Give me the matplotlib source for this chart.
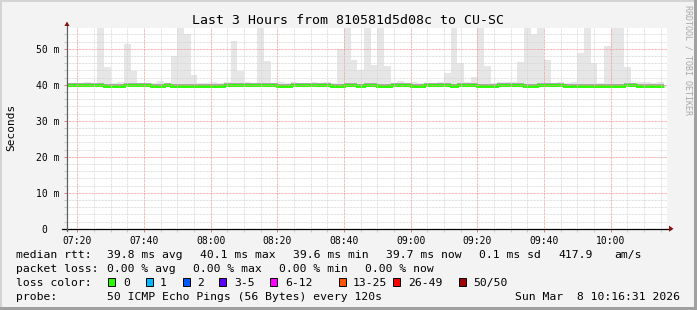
import matplotlib
matplotlib.use('Agg')
import matplotlib.pyplot as plt
import matplotlib.dates as mdates
from matplotlib.patches import Rectangle, Polygon
from matplotlib.ticker import MultipleLocator, FixedLocator
import pandas as pd

W, H = 697, 310
MONO = 'DejaVu Sans Mono'

title = 'Last 3 Hours from 810581d5d08c to CU-SC'
step_start = '2026-03-08 07:16'
view_start = '2026-03-08 07:16:54'
view_end = '2026-03-08 10:16:54'

# top of the smoke for each 2 minute step (ms); 58 means cut off by the top edge
smoke_max = [40.6, 40.6, 40.5, 40.8, 40.6, 58.0, 45.0, 40.6, 40.8, 51.3,
             43.9, 40.5, 40.6, 40.5, 40.9, 40.5, 48.0, 58.0, 54.1, 42.7,
             40.6, 40.6, 40.7, 40.6, 40.7, 52.1, 43.9, 40.7, 40.6, 58.0,
             46.6, 40.5, 40.8, 40.6, 40.7, 40.6, 40.6, 40.8, 40.6, 40.7,
             40.6, 49.8, 58.0, 47.0, 44.0, 58.0, 45.6, 58.0, 45.3, 40.6,
             40.9, 40.6, 40.8, 40.6, 40.5, 40.6, 40.7, 43.3, 58.0, 45.9,
             40.7, 42.1, 58.0, 45.2, 40.6, 40.7, 40.8, 40.7, 46.4, 58.0,
             54.2, 58.0, 46.9, 40.6, 40.7, 40.6, 40.8, 48.9, 58.0, 46.1,
             40.6, 50.7, 58.0, 58.0, 44.8, 40.6, 40.7, 40.8, 40.6, 40.7]

# median rtt per step (ms)
median_rtt = [40.0, 40.0, 40.0, 39.9, 40.0, 40.0, 39.6, 39.6, 39.6, 39.9,
              39.9, 39.9, 39.9, 39.7, 39.7, 40.0, 39.7, 39.7, 39.7, 39.7,
              39.7, 39.7, 39.7, 39.7, 39.8, 39.8, 39.8, 39.8, 39.9, 40.0,
              40.0, 40.0, 39.7, 39.7, 39.9, 40.0, 40.0, 40.0, 39.8, 39.8,
              39.7, 39.7, 39.9, 39.9, 39.6, 39.8, 39.8, 39.7, 39.7, 39.8,
              40.0, 39.8, 39.7, 39.7, 39.8, 40.0, 39.8, 39.8, 39.7, 39.8,
              40.0, 39.8, 39.7, 39.7, 39.7, 39.8, 39.8, 39.8, 40.0, 39.7,
              39.7, 39.8, 40.0, 40.0, 40.0, 39.7, 39.7, 39.7, 39.7, 39.7,
              39.7, 39.7, 39.7, 39.7, 40.0, 40.0, 39.7, 39.7, 39.7, 39.7]

yticks = [0, 10, 20, 30, 40, 50]
ytick_labels = ['0  ', '10 m', '20 m', '30 m', '40 m', '50 m']

loss_labels = ['0', '1', '2', '3-5', '6-12', '13-25', '26-49', '50/50']
loss_colors = ['#26ff00', '#00b8ff', '#0059ff', '#5e00ff', '#ff00ff',
               '#ff5500', '#ff0000', '#a10000']
loss_box_x = [108, 146, 183, 219, 270, 339, 393, 459]
loss_text_x = [123, 160, 197, 234, 285, 353, 408, 473]

legend_rows = [
    (258.3, [(16, 'median rtt:'), (107, '39.8 ms avg'), (200, '40.1 ms max'),
             (293, '39.6 ms min'), (386, '39.7 ms now'), (479, '0.1 ms sd'),
             (558, '417.9'), (614, 'am/s')]),
    (272.3, [(16, 'packet loss:'), (107, '0.00 % avg'), (193, '0.00 % max'),
             (279, '0.00 % min'), (365, '0.00 % now')]),
    (286.0, [(16, 'loss color:')]),
    (299.7, [(16, 'probe:'), (107, '50 ICMP Echo Pings (56 Bytes) every 120s')]),
]
stamp = 'Sun Mar  8 10:16:31 2026'


def fx(x):
    return x / W


def fy(y):
    return 1 - y / H


fig = plt.figure(figsize=(W / 100, H / 100), dpi=100)
fig.patch.set_facecolor('#f3f3f3')

# frame around the picture, light on top/left and dark on bottom/right
fig.add_artist(Rectangle((0, 0), fx(2), 1, transform=fig.transFigure, color='#d4d4d4', lw=0))
fig.add_artist(Rectangle((0, fy(2)), 1, 2 / H, transform=fig.transFigure, color='#d4d4d4', lw=0))
fig.add_artist(Rectangle((fx(694), 0), 3 / W, 1, transform=fig.transFigure, color='#a0a0a0', lw=0))
fig.add_artist(Rectangle((0, 0), 1, 3 / H, transform=fig.transFigure, color='#a0a0a0', lw=0))

ax = fig.add_axes([fx(67), fy(228.7), 600 / W, 200.7 / H])
ax.set_facecolor('white')

edges = mdates.date2num(pd.date_range(step_start, periods=len(smoke_max) + 1, freq='2min').to_pydatetime())
lo = [m - 0.35 for m in median_rtt]
hi = [m + 0.6 for m in median_rtt]

ax.stairs(smoke_max, edges, baseline=median_rtt, fill=True, color='#e6e6e6', lw=0, zorder=1)
ax.stairs(hi, edges, baseline=lo, fill=True, color='#a8a8a8', lw=0, zorder=1.2)
ax.stairs(median_rtt, edges, baseline=None, color='#26ff00', lw=2.1, zorder=2)

ax.set_xlim(mdates.date2num(pd.Timestamp(view_start)), mdates.date2num(pd.Timestamp(view_end)))
ax.set_ylim(0, 55.75)

ax.xaxis.set_major_locator(mdates.MinuteLocator(byminute=[0, 20, 40]))
ax.xaxis.set_minor_locator(mdates.MinuteLocator(byminute=range(0, 60, 5)))
ax.xaxis.set_major_formatter(mdates.DateFormatter('%H:%M'))
ax.yaxis.set_major_locator(FixedLocator(yticks))
ax.set_yticklabels(ytick_labels)
ax.yaxis.set_minor_locator(MultipleLocator(2))

ax.set_axisbelow(False)
ax.grid(which='minor', color='#d6d6d6', linestyle=(0, (0.72, 0.72)), lw=0.72)
ax.grid(which='major', color='#f09898', linestyle=(0, (0.72, 0.72)), lw=0.72)

ax.tick_params(which='major', length=2.2, width=0.72, color='#e08080', pad=3,
               labelsize=7, labelcolor='black')
ax.tick_params(which='minor', length=2.2, width=0.72, color='#c8c8c8')
for lab in ax.get_xticklabels() + ax.get_yticklabels():
    lab.set_family(MONO)

for s in ax.spines.values():
    s.set_visible(False)

# axis lines with rrdtool style arrows
ax.plot([-0.008, 1.006], [0, 0], transform=ax.transAxes, color='black', lw=0.9, clip_on=False, zorder=5)
ax.plot([0, 0], [-0.01, 1.02], transform=ax.transAxes, color='#606060', lw=0.9, clip_on=False, zorder=5)
fig.add_artist(Polygon([(fx(669), fy(225.7)), (fx(673.5), fy(228.7)), (fx(669), fy(231.7))],
                       closed=True, color='#8b1010', lw=0))
fig.add_artist(Polygon([(fx(64.5), fy(26)), (fx(67), fy(21.5)), (fx(69.5), fy(26))],
                       closed=True, color='#8b1010', lw=0))

fig.text(fx(348), fy(24), title, ha='center', va='baseline', fontsize=9.5, family=MONO)
fig.text(fx(11), fy(127), 'Seconds', rotation=90, ha='center', va='center', fontsize=8, family=MONO)
fig.text(fx(688), fy(5), 'RRDTOOL / TOBI OETIKER', rotation=270, ha='center', va='top',
         fontsize=6, family=MONO, color='#a8a8a8')

for y, parts in legend_rows:
    for x, txt in parts:
        fig.text(fx(x), fy(y), txt, ha='left', va='baseline', fontsize=8.2, family=MONO)
fig.text(fx(680), fy(299.7), stamp, ha='right', va='baseline', fontsize=8.2, family=MONO)

for bx, tx, lab, col in zip(loss_box_x, loss_text_x, loss_labels, loss_colors):
    fig.add_artist(Rectangle((fx(bx), fy(286)), 7 / W, 8 / H, transform=fig.transFigure,
                             facecolor=col, edgecolor='black', lw=0.7))
    fig.text(fx(tx), fy(286), lab, ha='left', va='baseline', fontsize=8.2, family=MONO)

fig.savefig('out.png', dpi=100, facecolor=fig.get_facecolor())
